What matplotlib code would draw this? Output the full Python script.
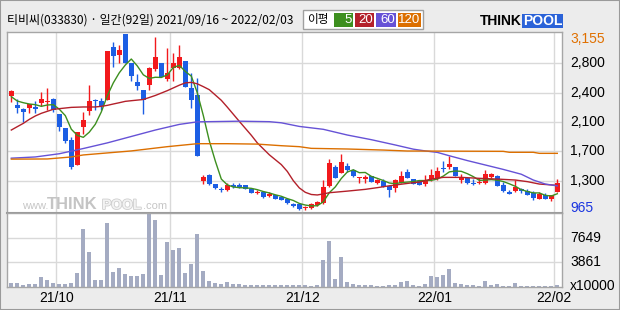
import matplotlib
matplotlib.use('Agg')
import matplotlib.pyplot as plt
import numpy as np
import pandas as pd
from matplotlib.patches import Rectangle
from matplotlib import font_manager
import matplotlib.patheffects as pe

# ---------------- data ----------------
opens = [2388, 2267, 2222, 2238, 2242, 2292, 2305, 2342, 2155, 1985,
         1836, 1525, 2002, 2193, 2334, 2321, 2334, 2997, 2894, 3155,
         2790, 2562, 2458, 2520, 2715, 2790, 2591, 2728, 2728, 2819,
         2479, 2396, 1330, 1405, 1288, 1222, 1214, 1276, 1276, 1272,
         1230, 1181, 1193, 1143, 1152, 1122, 1102, 1040, 1040, 985,
         994, 1031, 1056, 1268, 1504, 1429, 1512, 1463, 1359, 1346,
         1388, 1297, 1326, 1268, 1234, 1305, 1442, 1350, 1326, 1288,
         1346, 1359, 1492, 1496, 1500, 1338, 1359, 1305, 1297, 1305,
         1380, 1388, 1280, 1193, 1205, 1230, 1205, 1181, 1106, 1156,
         1102, 1193]
highs = [2458, 2342, 2230, 2284, 2317, 2433, 2479, 2354, 2155, 1985,
         1869, 1935, 2188, 2520, 2346, 2354, 2943, 3051, 3018, 3155,
         2790, 2657, 2458, 2749, 3113, 2790, 2977, 2914, 3018, 2819,
         2666, 2603, 1400, 1413, 1288, 1255, 1297, 1297, 1297, 1276,
         1230, 1214, 1193, 1193, 1152, 1130, 1102, 1048, 1040, 1019,
         1048, 1081, 1338, 1600, 1525, 1662, 1554, 1471, 1380, 1400,
         1392, 1346, 1350, 1268, 1350, 1450, 1475, 1355, 1330, 1396,
         1471, 1504, 1575, 1637, 1504, 1413, 1380, 1346, 1359, 1463,
         1429, 1400, 1317, 1214, 1338, 1239, 1222, 1197, 1185, 1172,
         1156, 1346]
lows = [2313, 2176, 2064, 2168, 2168, 2259, 2209, 2189, 1952, 1794,
        1479, 1525, 1911, 2147, 2209, 2209, 2334, 2748, 2790, 2790,
        2574, 2458, 2155, 2458, 2699, 2616, 2574, 2574, 2715, 2491,
        2230, 1637, 1288, 1276, 1222, 1193, 1206, 1235, 1235, 1222,
        1172, 1164, 1118, 1123, 1102, 1085, 1040, 1006, 965, 970,
        981, 1015, 1040, 1255, 1359, 1421, 1442, 1380, 1297, 1305,
        1310, 1288, 1247, 1131, 1193, 1297, 1359, 1284, 1270, 1263,
        1330, 1338, 1442, 1479, 1388, 1297, 1288, 1276, 1288, 1288,
        1359, 1263, 1185, 1160, 1193, 1172, 1147, 1089, 1098, 1098,
        1077, 1185]
closes = [2446, 2234, 2189, 2284, 2226, 2342, 2317, 2209, 2002, 1828,
          1496, 1935, 2085, 2325, 2317, 2263, 2943, 2885, 2956, 2798,
          2637, 2512, 2334, 2728, 2873, 2624, 2674, 2790, 2865, 2491,
          2334, 1637, 1380, 1288, 1235, 1210, 1276, 1247, 1247, 1222,
          1181, 1193, 1131, 1160, 1106, 1089, 1048, 1015, 975, 1006,
          1035, 1060, 1255, 1546, 1367, 1558, 1463, 1392, 1367, 1380,
          1317, 1338, 1255, 1214, 1338, 1388, 1367, 1288, 1276, 1338,
          1400, 1450, 1471, 1537, 1392, 1380, 1305, 1288, 1305, 1409,
          1409, 1268, 1205, 1164, 1255, 1197, 1156, 1118, 1160, 1106,
          1156, 1297]
volumes = [781, 781, 478, 578, 578, 1639, 1185, 781, 629, 629,
           781, 2245, 8911, 5427, 1185, 1185, 9870, 2447, 3053, 2144,
           1790, 1790, 2144, 11183, 10274, 1942, 6941, 5729, 6032, 2295,
           3659, 8204, 2598, 1084, 781, 629, 932, 629, 578, 478,
           478, 478, 478, 478, 478, 377, 478, 427, 427, 427,
           275, 427, 4214, 7093, 1336, 4669, 881, 578, 427, 427,
           427, 275, 275, 427, 427, 881, 1033, 427, 275, 578,
           1790, 1639, 1942, 2851, 730, 578, 427, 427, 275, 1033,
           427, 578, 275, 275, 730, 275, 275, 275, 275, 275,
           275, 427]

month_labels = ['21/10', '21/11', '21/12', '22/01', '22/02']
month_start_idx = [8, 27, 49, 71, 91]
price_tick_labels = ['1,300', '1,700', '2,100', '2,400', '2,800']
price_max, price_min = 3155, 965
vol_tick_labels = ['3861', '7649']

# moving averages: MA5 head (before 5 closes exist)
ma5_head = [2375, 2321, 2300, 2284]
ma20_idx = [0, 1, 2, 3, 4, 5, 6, 7, 8, 9, 10, 12, 14, 15, 16, 17, 18, 19, 20, 22,
            24, 26, 28, 29, 30, 31, 32, 33, 35, 36, 38, 40, 41, 43, 45, 46, 47, 48,
            49, 50, 51, 52, 53, 56, 59, 61, 63, 65, 67, 68, 70, 72, 75, 78, 81, 84,
            86, 88, 91]
ma20_val = [1960, 2002, 2043, 2093, 2135, 2168, 2193, 2218, 2226, 2234, 2242, 2247,
            2247, 2255, 2267, 2284, 2300, 2317, 2325, 2340, 2390, 2450, 2518, 2547,
            2553, 2535, 2500, 2462, 2330, 2245, 2068, 1895, 1800, 1652, 1530, 1445,
            1330, 1240, 1185, 1158, 1152, 1165, 1180, 1200, 1222, 1243, 1266, 1286,
            1305, 1312, 1350, 1371, 1371, 1359, 1350, 1338, 1318, 1288, 1272]
ma60_idx = [0, 4, 8, 12, 16, 20, 24, 28, 31, 38, 43, 45, 48, 52, 56, 60, 64, 67,
            69, 71, 73, 76, 79, 82, 85, 87, 89, 91]
ma60_val = [1610, 1625, 1665, 1730, 1800, 1880, 1960, 2030, 2062, 2070, 2064, 2050,
            2005, 1969, 1898, 1840, 1774, 1722, 1700, 1682, 1640, 1580, 1525, 1470,
            1410, 1338, 1288, 1265]
ma120_idx = [0, 6, 10, 12, 20, 26, 31, 36, 41, 45, 48, 50, 56, 62, 66, 82, 83, 87, 88, 91]
ma120_val = [1598, 1600, 1625, 1650, 1700, 1753, 1790, 1790, 1785, 1765, 1753, 1732,
             1724, 1711, 1699, 1695, 1683, 1683, 1670, 1670]

ma_labels = ['5', '20', '60', '120']
ma_colors = ['#3d8f1f', '#b3202a', '#6652d6', '#dc6f00']

# ---------------- fonts ----------------
avail = {f.name for f in font_manager.fontManager.ttflist}
num_font = ['Liberation Sans Narrow', 'DejaVu Sans'] if 'Liberation Sans Narrow' in avail else ['Liberation Sans', 'DejaVu Sans']
kr_font = ['Noto Sans CJK KR', 'DejaVu Sans']
logo_font = ['Liberation Sans', 'DejaVu Sans']

UP, DOWN = '#f2191c', '#1c5ee4'
W, H = 620, 310

fig = plt.figure(figsize=(6.2, 3.1), dpi=100, facecolor='#ececec')

def fx(x):
    return x / W

def fy(y):
    return 1 - y / H

L, R = 7.3, 562.3
T1, B1 = 32.0, 212.7
B2 = 287.3
ax1 = fig.add_axes([fx(L), fy(B1), fx(R - L), (B1 - T1) / H])
ax2 = fig.add_axes([fx(L), fy(B2), fx(R - L), (B2 - B1) / H])

n = len(closes)
idx = np.arange(n)
x_left, x_right = -0.667, 91.833
for ax in (ax1, ax2):
    ax.set_xlim(x_left, x_right)
    ax.set_facecolor('white')
    ax.set_xticks([])
    ax.set_yticks([])
    for s in ax.spines.values():
        s.set_color('#a6a6a6')
        s.set_linewidth(1.0)
    for m in month_start_idx:
        ax.axvline(m - 0.5, color='#d9d9d9', lw=1.0, zorder=0)

# price axis scaling
span = price_max - price_min
ax1.set_ylim(price_min - span * 2.7 / 176, price_max + span * 2.0 / 176)
grid_vals = [price_min + span * k / 6 for k in range(1, 6)]
for g in grid_vals:
    ax1.axhline(g, color='#d9d9d9', lw=1.0, zorder=0)

# watermark inside price panel (figure-pixel placement, behind the data)
wm_y = fy(209)
wm_kw = dict(transform=fig.transFigure, va='baseline', ha='left', zorder=1,
             family=logo_font)
ax1.text(fx(22), wm_y, 'www.', fontsize=8, color='#c6c6c6', **wm_kw)
ax1.text(fx(47), wm_y, 'THINK', fontsize=12, color='#c4c4c4', weight='bold', **wm_kw)
ax1.text(fx(102), wm_y, 'POOL', fontsize=10, color='#f2f2f2', weight='bold',
         path_effects=[pe.withStroke(linewidth=1.2, foreground='#cfcfcf')], **wm_kw)
ax1.text(fx(143), wm_y, '.com', fontsize=8, color='#c6c6c6', **wm_kw)

# candles
o = np.array(opens); c = np.array(closes); h = np.array(highs); lo = np.array(lows)
up = c >= o
colors = np.where(up, UP, DOWN)
minh = span / 176 * 1.0
body_bottom = np.minimum(o, c)
body_h = np.maximum(np.abs(c - o), minh)
ax1.vlines(idx, lo, h, colors=colors, lw=1.0, zorder=2)
ax1.bar(idx, body_h, bottom=body_bottom, width=0.83, color=colors, lw=0, zorder=2)

# moving averages
ma5 = pd.Series(closes).rolling(5).mean().to_numpy()
ma5[:len(ma5_head)] = ma5_head
ax1.plot(idx, ma5, color=ma_colors[0], lw=1.0, zorder=3)
ax1.plot(ma20_idx, ma20_val, color=ma_colors[1], lw=1.0, zorder=3)
ax1.plot(ma60_idx, ma60_val, color=ma_colors[2], lw=1.0, zorder=3)
ax1.plot(ma120_idx, ma120_val, color=ma_colors[3], lw=1.0, zorder=3)

# right labels (price)
lab_kw = dict(xycoords=('axes fraction', 'data'), textcoords='offset points',
              ha='left', va='center', fontsize=10, family=num_font)
for g, t in zip(grid_vals, price_tick_labels):
    ax1.annotate(t, xy=(1, g), xytext=(5.5, 0), color='black', annotation_clip=False, **lab_kw)
ax1.annotate(f'{price_max:,}', xy=(1, price_max), xytext=(5.5, -3.6), color='#e07000',
             annotation_clip=False, **lab_kw)
ax1.annotate(f'{price_min:,}', xy=(1, price_min), xytext=(5.5, 1.4), color='#1a35e0',
             annotation_clip=False, **lab_kw)

# volume panel
v1, v2 = int(vol_tick_labels[0]), int(vol_tick_labels[1])
step = v2 - v1
v0 = v1 - step
ax2.set_ylim(v0, v0 + 3 * step)
for v in (v1, v2):
    ax2.axhline(v, color='#d9d9d9', lw=1.0, zorder=0)
ax2.bar(idx, volumes, width=0.7, color='#a4abc2', lw=0, zorder=2)
for v, t in zip((v1, v2), vol_tick_labels):
    ax2.annotate(t, xy=(1, v), xytext=(5.5, 0), color='black', annotation_clip=False, **lab_kw)
fig.text(fx(570), fy(286), 'x10000', fontsize=10, family=num_font, ha='left', va='center')

# separator between panels
ax1.spines['bottom'].set_color('#9a9a9a')
ax1.spines['bottom'].set_linewidth(1.5)

# x labels
for m, t in zip(month_start_idx, month_labels):
    xp = L + (m - 0.5 - x_left) / (x_right - x_left) * (R - L)
    fig.text(fx(xp), fy(298), t, fontsize=10, family=num_font, ha='center', va='center')

# header
fig.text(fx(7), fy(20), '티비씨(033830) · 일간(92일) 2021/09/16 ~ 2022/02/03',
         fontsize=8.6, family=kr_font, ha='left', va='center')
fig.patches.append(Rectangle((fx(303), fy(29)), fx(120), 19 / H, transform=fig.transFigure,
                             facecolor='white', edgecolor='#a0a0a0', lw=1))
fig.text(fx(307), fy(20), '이평', fontsize=8.4, family=kr_font, ha='left', va='center')
box_x = [334, 355, 376, 398]
box_w = [19, 19, 20, 23]
for bx, bw, lab, col in zip(box_x, box_w, ma_labels, ma_colors):
    fig.patches.append(Rectangle((fx(bx), fy(27)), fx(bw), 14 / H, transform=fig.transFigure,
                                 facecolor=col, edgecolor='none'))
    fig.text(fx(bx + bw - 1), fy(20), lab, fontsize=9.5, family=num_font, color='white',
             ha='right', va='center')

# logo
fig.text(fx(480), fy(21), 'THINK', fontsize=10, weight='bold', family=logo_font,
         color='black', ha='left', va='center')
fig.patches.append(Rectangle((fx(522), fy(28)), fx(41), 14 / H, transform=fig.transFigure,
                             facecolor='#2a62d8', edgecolor='none'))
fig.text(fx(542.5), fy(21), 'POOL', fontsize=10, weight='bold', family=logo_font,
         color='white', ha='center', va='center')

# outer border
fig.patches.append(Rectangle((0, 0), 1, 1, transform=fig.transFigure, facecolor='none',
                             edgecolor='#9a9a9a', lw=1.5))

fig.savefig('out.png', dpi=100, facecolor=fig.get_facecolor())
